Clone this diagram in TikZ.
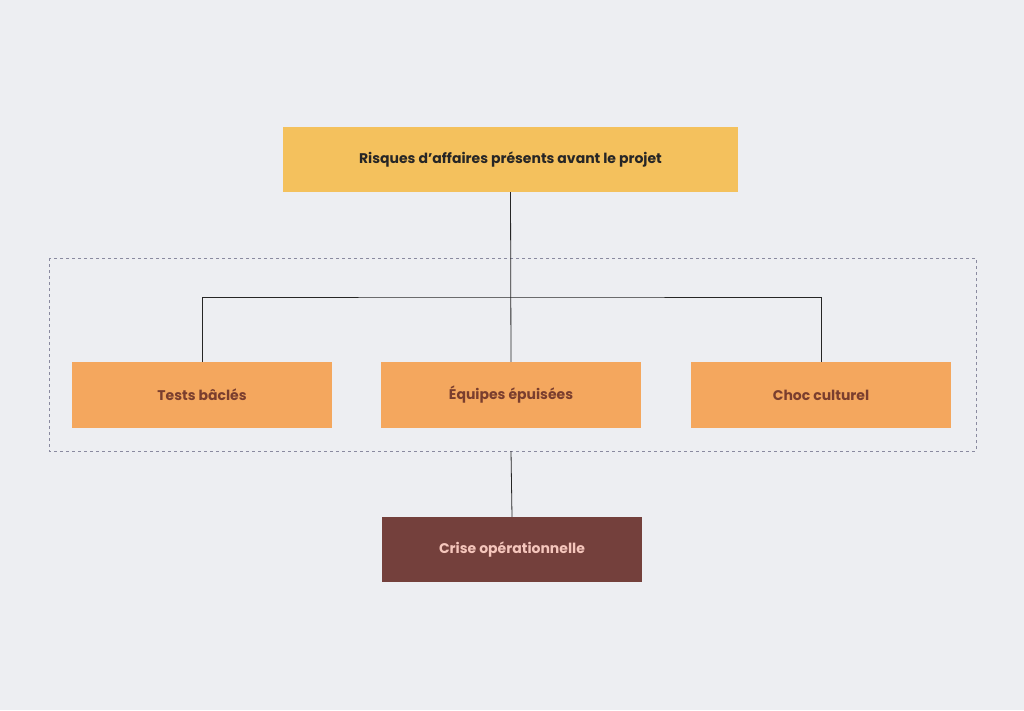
\documentclass[tikz,border=0pt]{standalone}
\usepackage{fontspec}
\setmainfont{Poppins}
\begin{document}
\definecolor{bg}{HTML}{EDEEF2}
\definecolor{topc}{HTML}{F4C15D}
\definecolor{midc}{HTML}{F4A75E}
\definecolor{midt}{HTML}{7A3E2E}
\definecolor{botc}{HTML}{74403C}
\definecolor{bott}{HTML}{F5C6BC}
\definecolor{dashc}{HTML}{8A8AA0}
\begin{tikzpicture}[x=1pt,y=-1pt,
  box/.style={draw=none,minimum height=66pt,inner sep=0pt,font=\fontsize{14}{16}\selectfont\bfseries},
  mid/.style={box,fill=midc,text=midt,minimum width=260pt},
  ln/.style={draw=black!85,line width=0.8pt}]
\fill[bg] (0,0) rectangle (1024,710);
\useasboundingbox (0,0) rectangle (1024,710);
\draw[dashc,dashed,line width=0.8pt] (49,258) rectangle (976,451);
\node[box,fill=topc,text=black!85,minimum width=455pt,minimum height=65pt] (top) at (510.5,159.5) {Risques d’affaires présents avant le projet};
\node[mid] (a) at (202,395) {Tests bâclés};
\node[mid] (b) at (511,395) {Équipes épuisées};
\node[mid] (c) at (821,395) {Choc culturel};
\node[box,fill=botc,text=bott,minimum width=260pt,minimum height=65pt] (d) at (512,549.5) {Crise opérationnelle};
\coordinate (j) at (511,297);
\coordinate (g) at (511,451);
\draw[ln] (top.south) -- (b.north);
\draw[ln] (a.north) |- (j) -| (c.north);
\draw[ln] (g) -- (d.north);
\end{tikzpicture}
\end{document}
